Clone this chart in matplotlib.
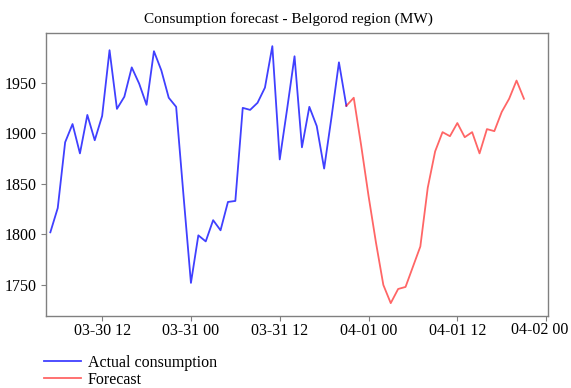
import matplotlib
matplotlib.use("Agg")
import matplotlib.pyplot as plt
import matplotlib.dates as mdates
import matplotlib.transforms as mtransforms
import pandas as pd

# Hourly consumption, MW
actual_start = "2024-03-30 05:00"
actual_mw = [
    1802, 1826, 1891, 1909, 1880, 1918, 1893, 1917, 1982, 1924,
    1936, 1965, 1949, 1928, 1981, 1962, 1935, 1926, 1838, 1752,
    1799, 1793, 1814, 1804, 1832, 1833, 1925, 1923, 1930, 1945,
    1986, 1874, 1924, 1976, 1886, 1926, 1907, 1865, 1916, 1970,
    1927,
]

# Forecast continues from the last actual hour
forecast_mw = [
    1927, 1935, 1888, 1838, 1792, 1750, 1732, 1746, 1748, 1768,
    1788, 1846, 1882, 1901, 1897, 1910, 1896, 1901, 1880, 1904,
    1902, 1921, 1934, 1952, 1934,
]

title = "Consumption forecast - Belgorod region (MW)"
labels = ["Actual consumption", "Forecast"]

actual_t = pd.date_range(actual_start, periods=len(actual_mw), freq="h")
forecast_t = pd.date_range(actual_t[-1], periods=len(forecast_mw), freq="h")

plt.rcParams["font.family"] = ["Liberation Serif", "DejaVu Serif"]

fig = plt.figure(figsize=(5.71, 3.88), dpi=100)
ax = fig.add_axes([0.0806, 0.1856, 0.8791, 0.7286])

l1, = ax.plot(actual_t, actual_mw, color="#0000ff", alpha=0.75, lw=1.3)
l2, = ax.plot(forecast_t, forecast_mw, color="#ff0000", alpha=0.6, lw=1.3)

ax.set_xlim(pd.Timestamp("2024-03-30 04:25"), pd.Timestamp("2024-04-02 00:15"))
ax.xaxis.set_major_locator(mdates.HourLocator(byhour=[0, 12]))
ax.xaxis.set_major_formatter(mdates.DateFormatter("%m-%d %H"))
ax.set_yticks([1750, 1800, 1850, 1900, 1950])

for s in ax.spines.values():
    s.set_color("#808080")
    s.set_linewidth(1.0)
ax.tick_params(axis="both", colors="#808080", labelcolor="black",
               labelsize=11.5, length=3.5, width=0.8)
ax.tick_params(axis="x", pad=1.5)

# keep the last date label inside the figure
fig.canvas.draw()
last = ax.get_xticklabels()[-1]
last.set_transform(last.get_transform() +
                   mtransforms.ScaledTranslation(-6 / 100, 1 / 100, fig.dpi_scale_trans))

fig.text(288 / 571, 1 - 19.5 / 388, title, fontsize=11, ha="center", va="center")

fig.legend([l1, l2], labels, loc="upper left", bbox_to_anchor=(0.0773, 0.0855),
           frameon=False, fontsize=11.5, handlelength=2.3, handletextpad=0.45,
           labelspacing=0.05, borderaxespad=0, borderpad=0)

fig.savefig("out.png", dpi=100)
